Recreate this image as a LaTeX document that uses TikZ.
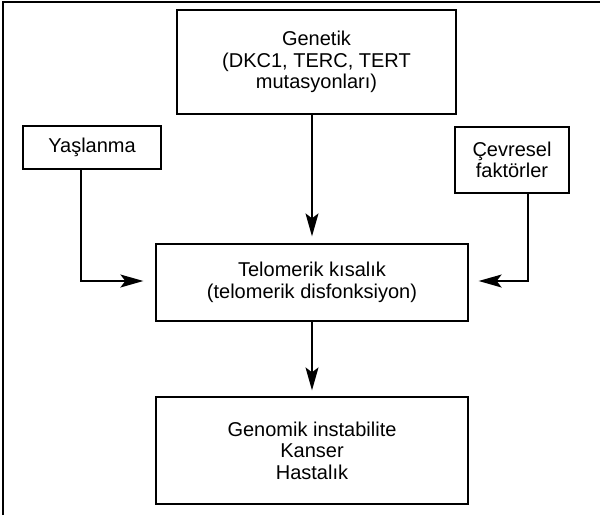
\documentclass[tikz,border=0pt]{standalone}
\usepackage{fontspec}
\setmainfont{Liberation Sans}
\usetikzlibrary{arrows.meta}

\begin{document}
\begin{tikzpicture}[x=1pt,y=-1pt]
\tikzstyle{every node}+=[inner sep=0pt]
\tikzstyle{box}=[draw=black, line width=1.3pt, align=center, font=\fontsize{20}{21.5}\selectfont]
\tikzstyle{arr}=[black, line width=1.3pt, -{Stealth[length=23pt,width=13pt,inset=5pt]}]
\useasboundingbox (0,0) rectangle (600,515);
\draw [black, line width=1.3pt] (3,515) -- (3,2) -- (600,2);
\node [box, minimum width=279pt, minimum height=104pt] (genetik) at (316.5,62) {Genetik\\(DKC1, TERC, TERT\\mutasyonları)};
\node [box, minimum width=138pt, minimum height=43pt] (yaslanma) at (92,147.5) {Yaşlanma};
\node [box, minimum width=114pt, minimum height=66pt] (cevresel) at (512,160) {Çevresel\\faktörler};
\node [box, minimum width=312pt, minimum height=77pt] (telomerik) at (312,282.5) {Telomerik kısalık\\(telomerik disfonksiyon)};
\node [box, minimum width=312pt, minimum height=107pt] (genomik) at (312,450.5) {Genomik instabilite\\Kanser\\Hastalık};
\draw [arr, shorten >=7pt] (genetik.south -| telomerik.north) -- (telomerik.north);
\draw [arr, shorten >=12pt] ([xshift=-11pt]yaslanma.south) |- ([yshift=1.5pt]telomerik.west);
\draw [arr, shorten >=10pt] ([xshift=16pt]cevresel.south) |- ([yshift=1.5pt]telomerik.east);
\draw [arr, shorten >=6pt] (telomerik.south) -- (genomik.north);
\end{tikzpicture}
\end{document}
